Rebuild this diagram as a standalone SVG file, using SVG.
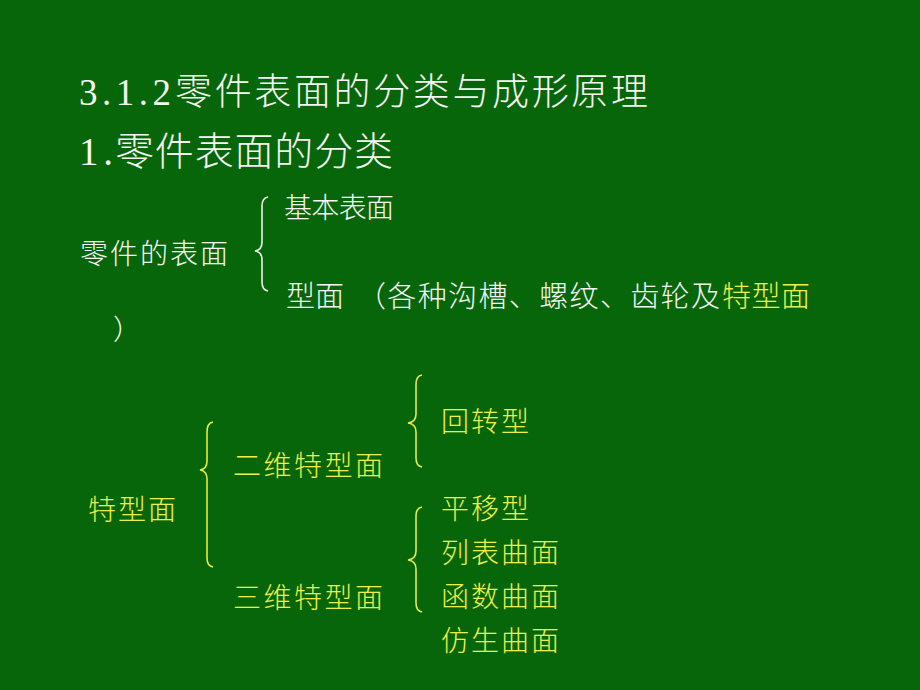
<svg xmlns="http://www.w3.org/2000/svg" width="920" height="690" viewBox="0 0 920 690">
<style>
.t{font-family:"Liberation Serif","Noto Sans CJK SC",serif;font-weight:300}
.w{fill:#f6f6f2}
.y{fill:#eef04a}
.bw{fill:none;stroke:#f0f0ea;stroke-width:1.6}
.by{fill:none;stroke:#e6ea48;stroke-width:1.6}
</style>
<rect x="0" y="0" width="920" height="690" fill="#08660a"/>
<g id="title">
<text class="t w" font-size="37" y="105"><tspan x="79" textLength="92">3.1.2</tspan><tspan x="175" textLength="473">零件表面的分类与成形原理</tspan></text>
<text class="t w" font-size="39" y="165"><tspan x="79" textLength="34">1.</tspan><tspan x="115" textLength="278">零件表面的分类</tspan></text>
</g>
<g id="node-surface"><text class="t w" font-size="28" x="80" y="264" textLength="148">零件的表面</text></g>
<g id="node-basic"><text class="t w" font-size="28" x="284" y="218" textLength="110">基本表面</text></g>
<g id="node-form"><text class="t w" font-size="29" y="307"><tspan x="286" textLength="58">型面</tspan><tspan x="357" textLength="363">（各种沟槽、螺纹、齿轮及</tspan><tspan class="y" x="722" textLength="88">特型面</tspan></text>
<text class="t w" font-size="28" x="113" y="340">）</text></g>
<g id="node-special"><text class="t y" font-size="28" x="88" y="520" textLength="88">特型面</text></g>
<g id="node-2d"><text class="t y" font-size="28" x="233" y="476" textLength="150">二维特型面</text></g>
<g id="node-3d"><text class="t y" font-size="28" x="233" y="608" textLength="150">三维特型面</text></g>
<g id="node-rot"><text class="t y" font-size="28" x="441" y="432" textLength="88">回转型</text></g>
<g id="node-trans"><text class="t y" font-size="28" x="441" y="519" textLength="88">平移型</text></g>
<g id="node-table"><text class="t y" font-size="28" x="441" y="563" textLength="118">列表曲面</text></g>
<g id="node-func"><text class="t y" font-size="28" x="441" y="607" textLength="118">函数曲面</text></g>
<g id="node-bio"><text class="t y" font-size="28" x="441" y="651" textLength="118">仿生曲面</text></g>
<g id="connectors">
<path class="bw" d="M268,197 Q262,198 262,206 L262,242 Q262,250 255,251 Q262,252 262,260 L262,282 Q262,290 268,291"/>
<path class="by" d="M213,422 Q207,423 207,432 L207,461 Q207,469 200,470 Q207,471 207,479 L207,558 Q207,566 213,567"/>
<path class="by" d="M422,375 Q416,376 416,384 L416,414 Q416,422 408,423 Q416,424 416,432 L416,458 Q416,466 422,467"/>
<path class="by" d="M422,507 Q416,508 416,516 L416,551 Q416,559 408,560 Q416,561 416,569 L416,603 Q416,611 422,612"/>
</g>
</svg>
